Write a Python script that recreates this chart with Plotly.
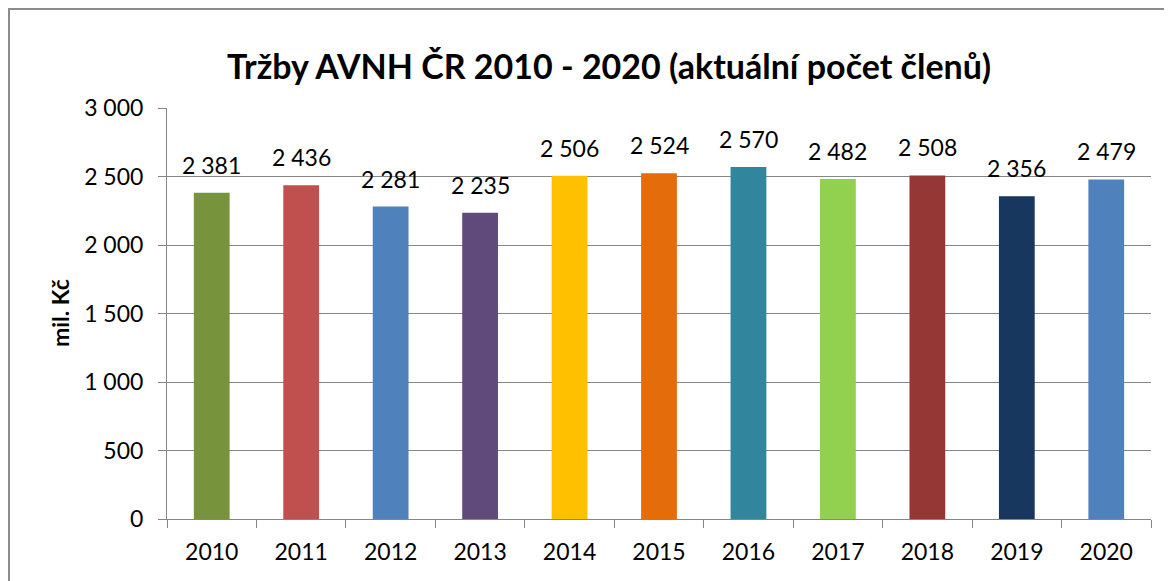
import plotly.graph_objects as go

years = ["2010", "2011", "2012", "2013", "2014", "2015", "2016", "2017", "2018", "2019", "2020"]
sales = [2381, 2436, 2281, 2235, 2506, 2524, 2570, 2482, 2508, 2356, 2479]
colors = ["#77933C", "#C0504D", "#4F81BD", "#604A7B", "#FFC000", "#E46C0A",
          "#31859C", "#92D050", "#953735", "#17375E", "#4F81BD"]
labels = [f"{v:,}".replace(",", " ") for v in sales]
ytick_vals = [0, 500, 1000, 1500, 2000, 2500, 3000]
ytick_text = [f"{v:,}".replace(",", " ") for v in ytick_vals]

FONT = "Lato"
GRID = "#868686"

fig = go.Figure(go.Bar(
    x=years, y=sales, marker=dict(color=colors, line=dict(width=0)),
    width=0.4, hoverinfo="x+y",
))

# category axis positions are the category indices
label_annotations = [
    dict(x=i, y=v, text=t, xref="x", yref="y", showarrow=False,
         xanchor="center", yanchor="bottom", yshift=12,
         font=dict(family=FONT, size=23, color="black"))
    for i, (v, t) in enumerate(zip(sales, labels))
]

fig.update_layout(
    width=1164, height=573,
    margin=dict(l=159, r=21, t=100, b=62),
    paper_bgcolor="white", plot_bgcolor="white",
    showlegend=False,
    font=dict(family=FONT, color="black"),
    annotations=[
        dict(text="<b>Tržby AVNH ČR 2010 - 2020 (aktuální počet členů)</b>",
             xref="paper", yref="paper", x=(609 - 167) / 984, y=(519 - 65) / 411,
             xanchor="center", yanchor="middle", showarrow=False,
             font=dict(family=FONT, size=34, color="black")),
        dict(text="<b>mil. Kč</b>", textangle=-90,
             xref="paper", yref="paper", x=(60 - 167) / 984, y=(519 - 313) / 411,
             xanchor="center", yanchor="middle", showarrow=False,
             font=dict(family=FONT, size=23, color="black")),
    ] + label_annotations,
    shapes=[dict(type="rect", xref="paper", yref="paper",
                 x0=(9 - 167) / 984, x1=1.2, y0=-0.3, y1=1 + 99 / 411,
                 line=dict(color="#8C8C8C", width=2), layer="below")],
)
fig.update_xaxes(
    type="category", range=[-0.5, len(years) - 0.5],
    tickson="boundaries", ticks="outside", ticklen=8,
    tickcolor=GRID, showline=True, linecolor=GRID, linewidth=1,
    tickfont=dict(family=FONT, size=23, color="black"), showgrid=False,
    automargin=False, tickangle=0, ticklabelstandoff=12,
)
fig.update_yaxes(
    range=[0, 3000], tickvals=ytick_vals, ticktext=ytick_text,
    ticks="outside", ticklen=8, tickcolor=GRID,
    showline=True, linecolor=GRID, linewidth=1,
    showgrid=True, gridcolor=GRID, gridwidth=1, zeroline=False,
    tickfont=dict(family=FONT, size=23, color="black"),
    automargin=False, ticklabelstandoff=10,
)

fig.write_html("out.html")
